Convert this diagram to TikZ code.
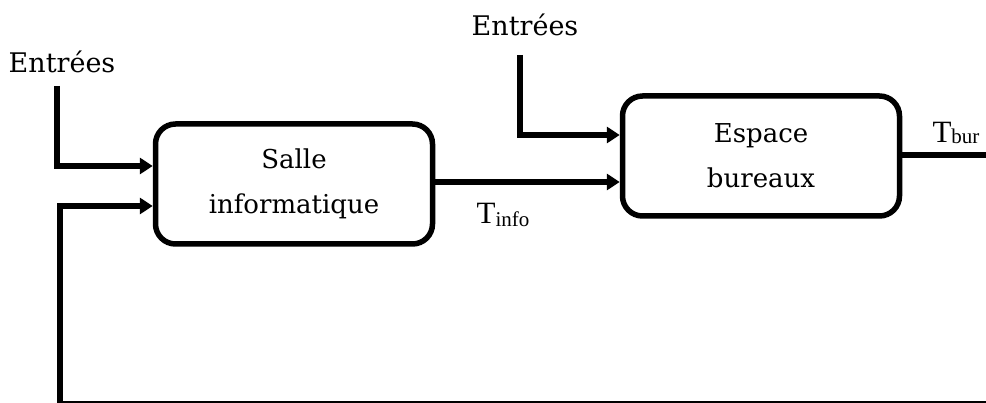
\documentclass[tikz,border=0pt]{standalone}
\usepackage{fontspec}
\setmainfont{DejaVu Serif}
\newfontfamily\tfont{Liberation Serif}
\usetikzlibrary{arrows.meta}
\begin{document}
\begin{tikzpicture}[x=1pt,y=-1pt,
  blk/.style={draw,line width=5.5pt,rounded corners=20pt,minimum width=277pt,minimum height=120pt,align=center,font=\fontsize{26}{45}\selectfont,inner sep=0pt},
  conn/.style={line width=5.5pt},
  arr/.style={conn,-{Triangle[length=13pt,width=16pt]}},
  lbl/.style={font=\fontsize{27}{30}\selectfont,inner sep=0pt},
  tlbl/.style={font=\tfont\fontsize{31}{32}\selectfont,inner sep=0pt}]
\useasboundingbox (0,0) rectangle (986,403);
\node[blk] (salle) at (294,184) {Salle\\informatique};
\node[blk] (esp) at (761,156) {Espace\\bureaux};
\node[lbl] (e1) at (62,62) {Entrées};
\node[lbl] (e2) at (525,25) {Entrées};
\coordinate (a1) at (57,86);
\coordinate (a2) at (520,55);
\coordinate (b1) at (60,402);
\coordinate (b2) at (986,402);
\coordinate (out) at (986,155);
\draw[arr] (a1) |- (salle.west |- 0,166);
\draw[arr] (b1) |- (salle.west |- 0,206);
\draw[line width=2pt] ([xshift=-2.75pt]b1) -- (b2);
\draw[arr] (a2) |- (esp.west |- 0,135);
\draw[arr] (salle.east |- 0,182) -- (esp.west |- 0,182);
\draw[conn] (esp.east |- out) -- (out);
\node[tlbl] (ti) at (503,215) {T\raisebox{-0.12em}{\fontsize{21}{22}\selectfont info}};
\node[tlbl] (tb) at (956,133) {T\raisebox{-0.05em}{\fontsize{21}{22}\selectfont bur}};
\end{tikzpicture}
\end{document}
